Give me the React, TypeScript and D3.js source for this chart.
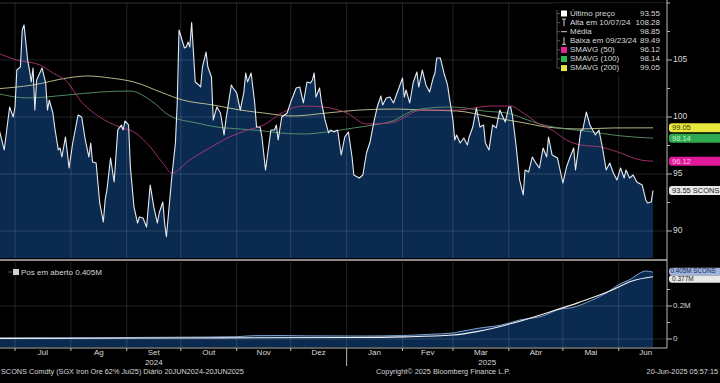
import React from "react";
import * as d3 from "d3";

const W = 720;
const H = 383;

const price: [string, number][] = [
  ["2024-06-20",100.3],["2024-06-25",97.11],["2024-06-28",100.88],["2024-06-30",100.0],["2024-07-01",100.88],
  ["2024-07-02",104.12],["2024-07-04",104.39],["2024-07-05",107.63],["2024-07-06",108.07],["2024-07-08",105.0],
  ["2024-07-09",104.12],["2024-07-10",103.07],["2024-07-11",104.3],["2024-07-12",100.61],["2024-07-13",103.25],
  ["2024-07-16",104.3],["2024-07-18",102.98],["2024-07-19",100.61],["2024-07-20",101.49],["2024-07-22",100.35],
  ["2024-07-23",99.12],["2024-07-25",97.11],["2024-07-26",97.28],["2024-07-27",96.49],["2024-07-29",98.25],
  ["2024-07-31",95.53],["2024-08-02",97.72],["2024-08-05",100.18],["2024-08-07",100.0],["2024-08-09",97.98],
  ["2024-08-11",96.49],["2024-08-12",97.72],["2024-08-13",96.05],["2024-08-15",95.96],["2024-08-17",92.46],
  ["2024-08-19",90.79],["2024-08-20",92.72],["2024-08-21",93.6],["2024-08-23",96.4],["2024-08-25",94.3],
  ["2024-08-27",98.86],["2024-08-29",99.3],["2024-08-30",98.86],["2024-08-31",99.65],["2024-09-02",99.3],
  ["2024-09-03",95.61],["2024-09-05",92.11],["2024-09-07",90.7],["2024-09-08",91.23],["2024-09-10",91.14],
  ["2024-09-12",90.35],["2024-09-14",94.04],["2024-09-16",92.11],["2024-09-18",90.7],["2024-09-19",91.58],
  ["2024-09-21",92.54],["2024-09-22",90.7],["2024-09-23",89.49],["2024-09-26",94.74],["2024-09-28",97.72],
  ["2024-09-29",101.23],["2024-09-30",107.63],["2024-10-03",106.05],["2024-10-04",106.14],["2024-10-05",106.58],
  ["2024-10-06",106.14],["2024-10-07",108.28],["2024-10-09",103.07],["2024-10-11",102.81],["2024-10-12",102.63],
  ["2024-10-13",104.39],["2024-10-15",105.7],["2024-10-16",104.39],["2024-10-18",103.51],["2024-10-19",99.74],
  ["2024-10-21",100.88],["2024-10-23",100.35],["2024-10-25",98.42],["2024-10-26",99.74],["2024-10-29",102.81],
  ["2024-10-30",102.54],["2024-11-01",102.11],["2024-11-03",100.61],["2024-11-05",102.19],["2024-11-06",103.86],
  ["2024-11-07",103.07],["2024-11-09",103.86],["2024-11-11",101.23],["2024-11-12",99.12],["2024-11-14",99.12],
  ["2024-11-15",98.25],["2024-11-17",95.35],["2024-11-19",97.72],["2024-11-20",98.86],["2024-11-22",98.86],
  ["2024-11-23",99.3],["2024-11-24",97.98],["2024-11-26",100.0],["2024-11-29",100.35],["2024-12-01",101.32],
  ["2024-12-04",102.54],["2024-12-06",102.63],["2024-12-08",101.23],["2024-12-10",103.07],["2024-12-12",102.98],
  ["2024-12-13",103.25],["2024-12-14",103.86],["2024-12-15",101.75],["2024-12-17",102.54],["2024-12-18",101.32],
  ["2024-12-20",99.74],["2024-12-22",98.6],["2024-12-23",98.86],["2024-12-25",98.68],["2024-12-27",98.86],
  ["2024-12-29",96.67],["2024-12-31",98.25],["2025-01-02",98.68],["2025-01-04",96.49],["2025-01-05",94.91],
  ["2025-01-07",94.74],["2025-01-08",94.65],["2025-01-10",94.91],["2025-01-12",96.84],["2025-01-14",97.81],
  ["2025-01-16",99.47],["2025-01-18",100.88],["2025-01-20",101.84],["2025-01-21",101.05],["2025-01-23",101.67],
  ["2025-01-25",101.75],["2025-01-27",101.23],["2025-01-30",102.54],["2025-02-01",103.42],["2025-02-02",101.75],
  ["2025-02-03",102.37],["2025-02-05",101.23],["2025-02-07",103.07],["2025-02-09",103.95],["2025-02-10",102.63],
  ["2025-02-12",104.12],["2025-02-14",102.81],["2025-02-16",102.19],["2025-02-18",103.42],["2025-02-19",103.86],
  ["2025-02-20",105.18],["2025-02-22",105.18],["2025-02-24",103.86],["2025-02-26",102.81],["2025-02-27",101.75],
  ["2025-03-01",99.74],["2025-03-02",97.98],["2025-03-03",98.42],["2025-03-05",97.72],["2025-03-07",98.16],
  ["2025-03-09",97.54],["2025-03-10",98.25],["2025-03-12",99.12],["2025-03-14",100.79],["2025-03-16",99.12],
  ["2025-03-18",99.3],["2025-03-19",97.72],["2025-03-21",97.11],["2025-03-23",99.3],["2025-03-25",99.04],
  ["2025-03-27",100.61],["2025-03-30",99.56],["2025-04-01",100.88],["2025-04-02",100.88],["2025-04-03",100.09],
  ["2025-04-05",97.54],["2025-04-07",94.47],["2025-04-09",93.16],["2025-04-10",95.35],["2025-04-12",95.18],
  ["2025-04-14",96.49],["2025-04-16",95.96],["2025-04-18",95.53],["2025-04-20",97.28],["2025-04-22",96.49],
  ["2025-04-23",98.25],["2025-04-25",96.67],["2025-04-27",96.49],["2025-04-28",96.4],["2025-05-01",94.21],
  ["2025-05-03",95.61],["2025-05-05",96.49],["2025-05-07",97.28],["2025-05-08",95.35],["2025-05-11",98.86],
  ["2025-05-12",98.86],["2025-05-14",100.44],["2025-05-16",99.3],["2025-05-19",98.42],["2025-05-21",98.86],
  ["2025-05-23",97.28],["2025-05-25",95.35],["2025-05-27",95.96],["2025-05-29",95.09],["2025-05-31",94.47],
  ["2025-06-02",95.53],["2025-06-04",94.65],["2025-06-05",95.35],["2025-06-07",94.65],["2025-06-09",94.91],
  ["2025-06-11",94.3],["2025-06-14",94.04],["2025-06-16",92.72],["2025-06-17",92.46],["2025-06-19",92.54],
  ["2025-06-20",93.55],
];

const sma50: [string, number][] = [
  ["2024-06-20",105.7],["2024-07-02",105.0],["2024-07-15",104.56],["2024-07-22",103.86],["2024-07-30",103.07],
  ["2024-08-06",101.49],["2024-08-17",100.0],["2024-08-28",99.12],["2024-09-05",98.68],["2024-09-14",97.37],
  ["2024-09-21",95.96],["2024-09-26",95.09],["2024-10-06",96.23],["2024-10-17",97.28],["2024-10-28",98.25],
  ["2024-11-07",98.86],["2024-11-16",99.3],["2024-11-25",100.26],["2024-12-08",100.96],["2024-12-19",100.88],
  ["2025-01-01",100.35],["2025-01-12",99.39],["2025-01-25",99.47],["2025-02-12",100.61],["2025-03-03",100.61],
  ["2025-03-22",100.96],["2025-04-02",100.96],["2025-04-09",100.35],["2025-04-17",99.47],["2025-04-25",98.86],
  ["2025-05-03",97.98],["2025-05-11",97.54],["2025-05-22",97.37],["2025-06-02",96.84],["2025-06-13",96.23],
  ["2025-06-20",96.12],
];

const sma100: [string, number][] = [
  ["2024-06-20",102.11],["2024-07-08",101.67],["2024-07-30",101.93],["2024-08-17",102.19],["2024-09-03",102.28],
  ["2024-09-14",101.49],["2024-09-25",100.09],["2024-10-10",99.47],["2024-10-21",99.12],["2024-11-03",98.95],
  ["2024-11-16",98.77],["2024-11-25",98.6],["2024-12-08",98.51],["2024-12-21",98.68],["2025-01-05",99.04],
  ["2025-01-16",99.3],["2025-01-28",99.74],["2025-02-05",100.44],["2025-02-16",100.79],["2025-02-26",100.88],
  ["2025-03-08",100.79],["2025-03-18",100.53],["2025-03-31",100.35],["2025-04-10",99.82],["2025-04-18",99.39],
  ["2025-05-03",98.95],["2025-05-18",98.68],["2025-05-29",98.42],["2025-06-20",98.14],
];

const sma200: [string, number][] = [
  ["2024-06-20",102.46],["2024-07-11",102.81],["2024-07-30",103.42],["2024-08-10",103.6],["2024-08-23",103.42],
  ["2024-09-05",103.07],["2024-09-21",102.11],["2024-10-02",101.49],["2024-10-19",101.05],["2024-11-03",100.61],
  ["2024-11-16",100.35],["2024-12-02",100.09],["2024-12-21",100.35],["2025-01-08",100.61],["2025-01-28",100.7],
  ["2025-02-12",100.61],["2025-03-03",100.53],["2025-03-22",100.0],["2025-04-10",99.47],["2025-04-22",99.12],
  ["2025-05-11",98.95],["2025-05-29",99.04],["2025-06-20",99.05],
];

const openInterest: [string, number][] = [
  ["2024-06-20",0.006],["2024-08-01",0.007],["2024-09-01",0.009],["2024-10-01",0.011],["2024-11-01",0.014],
  ["2024-11-10",0.02],["2024-11-25",0.021],["2024-12-10",0.019],["2025-01-08",0.018],["2025-02-01",0.021],
  ["2025-02-15",0.028],["2025-03-01",0.036],["2025-03-05",0.045],["2025-03-15",0.065],["2025-03-28",0.085],
  ["2025-04-07",0.115],["2025-04-20",0.14],["2025-04-29",0.18],["2025-05-06",0.19],["2025-05-17",0.235],
  ["2025-05-26",0.285],["2025-06-01",0.33],["2025-06-08",0.365],["2025-06-12",0.395],["2025-06-16",0.412],
  ["2025-06-20",0.405],
];

const openInterestAvg: [string, number][] = [
  ["2024-06-20",0.004],["2024-10-01",0.006],["2025-01-01",0.009],["2025-02-01",0.013],["2025-03-01",0.024],
  ["2025-03-15",0.046],["2025-04-03",0.095],["2025-04-21",0.155],["2025-05-10",0.222],["2025-05-28",0.295],
  ["2025-06-08",0.35],["2025-06-20",0.377],
];

const monthLabels = ["Jul","Ag","Set","Out","Nov","Dez","Jan","Fev","Mar","Abr","Mai","Jun"];
const yearLabels: [string, string][] = [["2024","2024-09-16"],["2025","2025-03-20"]];
const priceTicks = [90, 95, 100, 105];
const priceMinorTicks = [92.5, 97.5, 102.5, 107.5, 110];
const oiTicks = [0, 0.2];
const oiTickLabels = ["0", "0.2M"];
const oiMinorTicks = [0.1, 0.3];

const legendLabels = ["Último preço","Alta em 10/07/24","Média","Baixa em 09/23/24","SMAVG (50)","SMAVG (100)","SMAVG (200)"];
const legendValues = ["93.55","108.28","98.85","89.49","96.12","98.14","99.05"];
const legendIcons = ["white","up","dash","down","#e0249a","#2fb457","#e5e54a"];

const COLORS = {
  bg: "#000000",
  area: "#0b2a4f",
  price: "#e4ebf3",
  sma50: "#b8387a",
  sma100: "#5f9e72",
  sma200: "#d6d49c",
  grid: "rgba(200,210,225,0.17)",
  axis: "#b8b8b8",
  text: "#d8d8d8",
};

const parse = d3.utcParse("%Y-%m-%d");
const toPts = (a: [string, number][]) => a.map(([d, v]) => ({ d: parse(d) as Date, v }));

export default function App() {
  const FONT = "'Liberation Sans', Arial, sans-serif";
  const axisX = 667;
  const mainTop = 3;
  const mainBottom = 258;
  const oiBottom = 347;

  const x = d3.scaleUtc().domain([parse("2024-06-20") as Date, parse("2025-06-20") as Date]).range([-4.8, 653]);
  const y = d3.scaleLinear().domain([90, 105]).range([231, 60]);
  const yOI = d3.scaleLinear().domain([0, 0.2]).range([339, 306]);

  const P = toPts(price);
  const S50 = toPts(sma50);
  const S100 = toPts(sma100);
  const S200 = toPts(sma200);
  const OI = toPts(openInterest);
  const OIA = toPts(openInterestAvg);

  const priceLine = d3.line<any>().x((p) => x(p.d)).y((p) => y(p.v));
  const priceArea = d3.area<any>().x((p) => x(p.d)).y0(mainBottom).y1((p) => y(p.v));
  const maLine = d3.line<any>().x((p) => x(p.d)).y((p) => y(p.v)).curve(d3.curveMonotoneX);
  const oiArea = d3.area<any>().x((p) => x(p.d)).y0(oiBottom).y1((p) => yOI(p.v)).curve(d3.curveMonotoneX);
  const oiLine = d3.line<any>().x((p) => x(p.d)).y((p) => yOI(p.v)).curve(d3.curveMonotoneX);

  const monthStarts = d3.utcMonth.range(parse("2024-07-01") as Date, parse("2025-06-02") as Date);
  const monthMids = monthStarts.map((m) => {
    const next = d3.utcMonth.offset(m, 1);
    return new Date((m.getTime() + next.getTime()) / 2);
  });

  const last = (a: [string, number][]) => a[a.length - 1][1];
  const rightLabels = [
    { v: last(sma200), text: last(sma200).toFixed(2), fill: "#e8e83c", color: "#3a3a10" },
    { v: last(sma100), text: last(sma100).toFixed(2), fill: "#2faa50", color: "#c8f0d0" },
    { v: last(sma50), text: last(sma50).toFixed(2), fill: "#e0189a", color: "#f8c0e0" },
    { v: last(price), text: last(price).toFixed(2) + " SCONS", fill: "#e8e8e8", color: "#222" },
  ];
  const oiLabelY = yOI(last(openInterest));

  return (
    <svg width={W} height={H} style={{ display: "block", background: COLORS.bg }} fontFamily={FONT}>
      <style>{`body{margin:0;background:#000;}`}</style>
      <rect x={0} y={0} width={W} height={H} fill={COLORS.bg} />

      <clipPath id="mainClip"><rect x={0} y={mainTop} width={axisX} height={mainBottom - mainTop} /></clipPath>
      <clipPath id="oiClip"><rect x={0} y={262} width={axisX} height={oiBottom - 262} /></clipPath>
      <line x1={0} x2={axisX} y1={mainTop} y2={mainTop} stroke="rgba(200,200,200,0.25)" />
      <g clipPath="url(#mainClip)">
        <path d={priceArea(P) || ""} fill={COLORS.area} />
        {priceTicks.map((t) => (
          <line key={"hg" + t} x1={0} x2={axisX} y1={y(t)} y2={y(t)} stroke={COLORS.grid} />
        ))}
        {monthStarts.map((m, i) => (
          <line key={"vg" + i} x1={x(m)} x2={x(m)} y1={mainTop} y2={mainBottom} stroke={COLORS.grid} />
        ))}
        <path d={maLine(S200) || ""} fill="none" stroke={COLORS.sma200} strokeWidth={1} opacity={0.85} />
        <path d={maLine(S100) || ""} fill="none" stroke={COLORS.sma100} strokeWidth={1} opacity={0.85} />
        <path d={maLine(S50) || ""} fill="none" stroke={COLORS.sma50} strokeWidth={1} opacity={0.85} />
        <path d={priceLine(P) || ""} fill="none" stroke={COLORS.price} strokeWidth={1.1} strokeLinejoin="round" />
      </g>

      <line x1={0} x2={axisX} y1={260} y2={260} stroke="#8a8a8a" strokeWidth={2} />

      <g clipPath="url(#oiClip)">
        <path d={oiArea(OI) || ""} fill={COLORS.area} />
        {oiTicks.map((t) => (
          <line key={"og" + t} x1={0} x2={axisX} y1={yOI(t)} y2={yOI(t)} stroke={COLORS.grid} />
        ))}
        {monthStarts.map((m, i) => (
          <line key={"ovg" + i} x1={x(m)} x2={x(m)} y1={262} y2={oiBottom} stroke={COLORS.grid} />
        ))}
        <path d={oiLine(OI) || ""} fill="none" stroke="#7fa3cf" strokeWidth={1} />
        <path d={oiLine(OIA) || ""} fill="none" stroke="#f4f4f4" strokeWidth={1.1} />
      </g>

      <line x1={0} x2={axisX} y1={oiBottom + 1} y2={oiBottom + 1} stroke={COLORS.axis} />
      {monthStarts.map((m, i) => (
        <line key={"mt" + i} x1={x(m)} x2={x(m)} y1={oiBottom + 1}
          y2={m.getUTCMonth() === 0 ? 366 : oiBottom + 4} stroke={COLORS.axis} />
      ))}
      {monthMids.map((m, i) => (
        <text key={"ml" + i} x={x(m)} y={353} fill={COLORS.text} fontSize={8} textAnchor="middle" dominantBaseline="middle">
          {monthLabels[i]}
        </text>
      ))}
      {yearLabels.map(([t, d]) => (
        <text key={t} x={x(parse(d) as Date)} y={362.5} fill={COLORS.text} fontSize={8} textAnchor="middle" dominantBaseline="middle">
          {t}
        </text>
      ))}

      <line x1={axisX} x2={axisX} y1={0} y2={oiBottom + 1} stroke={COLORS.axis} />
      {priceTicks.map((t) => (
        <g key={"pt" + t}>
          <line x1={axisX} x2={axisX + 5} y1={y(t)} y2={y(t)} stroke={COLORS.axis} />
          <text x={axisX + 6} y={y(t)} fill={COLORS.text} fontSize={8.5} dominantBaseline="middle">{t}</text>
        </g>
      ))}
      {priceMinorTicks.map((t) => (
        <line key={"pm" + t} x1={axisX} x2={axisX + 3} y1={y(t)} y2={y(t)} stroke={COLORS.axis} />
      ))}
      {oiTicks.map((t, i) => (
        <g key={"ot" + t}>
          <line x1={axisX} x2={axisX + 5} y1={yOI(t)} y2={yOI(t)} stroke={COLORS.axis} />
          <text x={axisX + 6} y={yOI(t)} fill={COLORS.text} fontSize={8} dominantBaseline="middle">{oiTickLabels[i]}</text>
        </g>
      ))}
      {oiMinorTicks.map((t) => (
        <line key={"om" + t} x1={axisX} x2={axisX + 3} y1={yOI(t)} y2={yOI(t)} stroke={COLORS.axis} />
      ))}

      {rightLabels.map((l, i) => (
        <g key={"rl" + i}>
          <rect x={669} y={y(l.v) - 4.5} width={60} height={9} rx={3} fill={l.fill} />
          <text x={672} y={y(l.v) + 0.5} fontSize={7.5} fill={l.color} dominantBaseline="middle">{l.text}</text>
        </g>
      ))}
      <rect x={669} y={oiLabelY + 3} width={60} height={7.5} rx={3} fill="#e8e8e8" />
      <text x={672} y={oiLabelY + 7} fontSize={6.5} fill="#222" dominantBaseline="middle">
        {(last(openInterestAvg)).toFixed(3)}M
      </text>
      <rect x={669} y={oiLabelY - 4.5} width={60} height={7.5} rx={3} fill="#9fb4dc" />
      <text x={670.5} y={oiLabelY - 0.7} fontSize={6.3} fill="#1a2a55" dominantBaseline="middle">
        {last(openInterest).toFixed(3)}M SCONS
      </text>

      <rect x={553} y={3} width={113} height={72} fill="#000" opacity={0.92} />
      <line x1={557} x2={557} y1={10} y2={68} stroke="#555" />
      {legendLabels.map((lab, i) => {
        const cy = 13.5 + i * 9.1;
        const icon = legendIcons[i];
        return (
          <g key={"lg" + i}>
            <line x1={557} x2={560} y1={cy} y2={cy} stroke="#555" />
            {icon === "up" && (
              <g stroke="#cfcfcf">
                <line x1={564} x2={564} y1={cy - 3.5} y2={cy + 3.5} />
                <line x1={562} x2={566} y1={cy - 3.5} y2={cy - 3.5} />
              </g>
            )}
            {icon === "down" && (
              <g stroke="#cfcfcf">
                <line x1={564} x2={564} y1={cy - 3.5} y2={cy + 3.5} />
                <line x1={562} x2={566} y1={cy + 3.5} y2={cy + 3.5} />
              </g>
            )}
            {icon === "dash" && <line x1={561} x2={567} y1={cy} y2={cy} stroke="#cfcfcf" />}
            {icon !== "up" && icon !== "down" && icon !== "dash" && (
              <rect x={561} y={cy - 3} width={6} height={6} fill={icon} />
            )}
            <text x={570} y={cy} fontSize={8} fill={COLORS.text} dominantBaseline="middle">{lab}</text>
            <text x={660} y={cy} fontSize={8} fill={COLORS.text} dominantBaseline="middle" textAnchor="end">{legendValues[i]}</text>
          </g>
        );
      })}

      <rect x={13} y={269} width={6} height={6} fill="#cfcfcf" />
      <line x1={8} x2={12} y1={272} y2={272} stroke="#555" />
      <text x={21} y={272.5} fontSize={8} fill={COLORS.text} dominantBaseline="middle">Pos em aberto 0.405M</text>

      <text x={1} y={372.5} fontSize={7.3} fill={COLORS.text} dominantBaseline="middle">
        SCONS Comdty (SGX Iron Ore 62%  Jul25)  Diário 20JUN2024-20JUN2025
      </text>
      <text x={376} y={372.5} fontSize={7.3} fill={COLORS.text} dominantBaseline="middle">
        Copyright© 2025 Bloomberg Finance L.P.
      </text>
      <text x={718} y={372.5} fontSize={7.3} fill={COLORS.text} dominantBaseline="middle" textAnchor="end">
        20-Jun-2025 05:57:15
      </text>
    </svg>
  );
}
